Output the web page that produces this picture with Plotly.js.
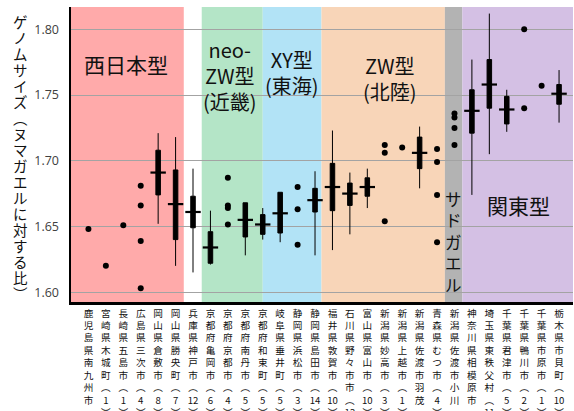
<!DOCTYPE html>
<html><head><meta charset="utf-8">
<script src="https://cdn.plot.ly/plotly-3.0.1.min.js"></script>
<style>html,body{margin:0;padding:0;background:#fff;}#c{width:574px;height:411px;}</style>
</head><body><div id="c"></div>
<script>
const categories = ['鹿児島県南九州市（1）','宮崎県木城町（1）','長崎県五島市（1）','広島県三次市（4）','岡山県倉敷市（8）','岡山県勝央町（7）','兵庫県神戸市（12）','京都府亀岡市（6）','京都府京都市（4）','京都府南丹市（5）','京都府和束町（5）','岐阜県垂井町（5）','静岡県浜松市（3）','静岡県島田市（14）','福井県敦賀市（10）','石川県野々市市（12）','富山県富山市（10）','新潟県妙高市（3）','新潟県上越市（1）','新潟県佐渡市羽茂（','青森県むつ市（4）','新潟県佐渡市小川（4）','神奈川県相模原市（','埼玉県東秩父村（11）','千葉県君津市（5）','千葉県鴨川市（2）','千葉県市原市（1）','栃木県市貝町（10）'];

// box-plot groups (category index)
const boxIdx = [4,5,6,7,9,10,11,13,14,15,16,19,22,23,24,27];
const boxLo  = [1.652,1.620,1.615,1.621,1.628,1.640,1.638,1.628,1.632,1.644,1.664,1.679,1.674,1.705,1.722,1.729];
const boxQ1  = [1.674,1.640,1.649,1.622,1.642,1.644,1.645,1.661,1.662,1.666,1.673,1.694,1.721,1.740,1.728,1.743];
const boxMed = [1.691,1.667,1.661,1.634,1.655,1.6515,1.660,1.670,1.680,1.675,1.680,1.706,1.738,1.758,1.739,1.751];
const boxQ3  = [1.708,1.693,1.673,1.646,1.668,1.659,1.676,1.679,1.698,1.683,1.687,1.718,1.754,1.777,1.749,1.758];
const boxHi  = [1.721,1.718,1.694,1.662,1.668,1.664,1.676,1.692,1.723,1.691,1.694,1.726,1.777,1.812,1.754,1.769];

// individual points (category index, value)
const dotIdx  = [0,1,2,3,3,3,3,8,8,8,8,12,12,12,17,17,17,18,20,20,20,20,21,21,21,21,25,25,26];
const dotVals = [1.648,1.620,1.651,1.681,1.666,1.639,1.603,1.687,1.666,1.664,1.6515,1.680,1.663,1.636,1.712,1.706,1.654,1.710,1.709,1.699,1.674,1.638,1.736,1.733,1.725,1.712,1.800,1.740,1.757];

const yTicks = [1.60,1.65,1.70,1.75,1.80];
const yTitle = 'ゲノムサイズ（ヌマガエルに対する比）';

const bands = [
  {x0:-1, x1:5.47, color:'#FFAAAA'},
  {x0:6.5, x1:10.0, color:'#B4E5C7'},
  {x0:10.0, x1:13.37, color:'#B2E3F6'},
  {x0:13.37, x1:20.45, color:'#F8D5B8'},
  {x0:20.45, x1:21.45, color:'#B3B3B3'},
  {x0:21.45, x1:27.8, color:'#D4C0E4'}
];

function vert(s){
  const parts = s.match(/\d+|./gu);
  return parts.map(c => c==='（'?'︵':(c==='）'?'︶':c)).join('<br>');
}

const bx = boxIdx.map(i => categories[i]);
const traces = [
  {type:'box', x:bx, q1:boxQ1, median:boxMed, q3:boxQ3, lowerfence:boxLo, upperfence:boxHi,
   fillcolor:'#000', line:{color:'#000', width:1}, width:0.26, whiskerwidth:0,
   boxpoints:false, hoverinfo:'skip', showlegend:false},
  {type:'scatter', mode:'markers', x:bx, y:boxMed,
   marker:{symbol:'line-ew-open', size:11, color:'#000', line:{color:'#000', width:2.2}}, hoverinfo:'skip', showlegend:false},
  {type:'scatter', mode:'markers', x:dotIdx.map(i => categories[i]), y:dotVals,
   marker:{color:'#000', size:6}, hoverinfo:'skip', showlegend:false}
];

const shapes = bands.map(b => ({type:'rect', xref:'x', yref:'paper', x0:b.x0, x1:b.x1, y0:0, y1:1,
  fillcolor:b.color, line:{width:0}, layer:'below'}));

const jp = '"Noto Sans CJK JP", "Noto Sans", sans-serif';
const ann = [
  {x:2.14, y:1.7736, text:'西日本型', size:21},
  {x:8.12, y:1.7652, text:'neo-<br>ZW型<br>(近畿)', size:20},
  {x:11.66, y:1.7668, text:'XY型<br>(東海)', size:20},
  {x:17.29, y:1.7626, text:'ZW型<br>(北陸)', size:20},
  {x:20.96, y:1.638, text:'サ<br>ド<br>ガ<br>エ<br>ル', size:16.5},
  {x:24.69, y:1.6662, text:'関東型', size:21}
].map(a => ({xref:'x', yref:'y', x:a.x, y:a.y, text:a.text, showarrow:false,
  xanchor:'center', yanchor:'middle', font:{family:jp, size:a.size, color:'#111'}}));

// vertical y-axis title, one glyph per line
const plotTop = 7, plotBot = 301.7, plotH = plotBot - plotTop;
Array.from(yTitle).forEach((ch, k) => {
  const c = ch==='（'?'︵':(ch==='）'?'︶':ch);
  const ypx = 21.5 + 16.0*k;
  ann.push({xref:'paper', yref:'paper', x:(20-71)/502, y:(plotBot-ypx)/plotH, text:c, showarrow:false,
    xanchor:'center', yanchor:'middle', font:{family:jp, size:14.5, color:'#111'}});
});

const layout = {
  width:574, height:411,
  margin:{l:71, r:1, t:7, b:109.3},
  paper_bgcolor:'#fff', plot_bgcolor:'#fff',
  showlegend:false,
  xaxis:{type:'category', categoryorder:'array', categoryarray:categories,
    range:[-1, 27.8], tickmode:'array', tickvals:categories, ticktext:categories.map(vert),
    tickangle:0, ticks:'', ticklen:0,
    tickfont:{family:jp, size:9.6, color:'#111'},
    showgrid:false, showline:true, linecolor:'#000', linewidth:3, zeroline:false, fixedrange:true},
  yaxis:{range:[1.5925, 1.817], tickmode:'array', tickvals:yTicks, ticktext:yTicks.map(v => v.toFixed(2)),
    ticks:'outside', ticklen:7, tickcolor:'rgba(0,0,0,0)',
    tickfont:{family:'"Open Sans", "Noto Sans", sans-serif', size:12.5, color:'#404040'},
    showgrid:true, gridcolor:'#A3A3A3', gridwidth:1,
    showline:true, linecolor:'#000', linewidth:2.5, zeroline:false, fixedrange:true},
  shapes:shapes,
  annotations:ann
};

Plotly.newPlot('c', traces, layout, {staticPlot:true, displayModeBar:false});
</script>
</body></html>
